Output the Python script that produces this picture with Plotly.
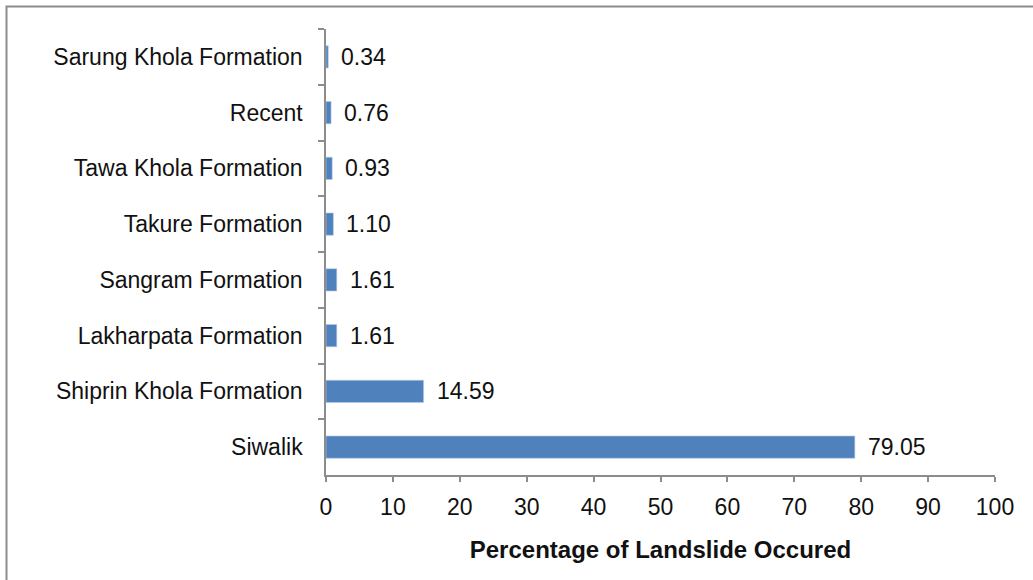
import plotly.graph_objects as go

# Geological formations, listed top to bottom as displayed
formations = [
    "Sarung Khola Formation",
    "Recent",
    "Tawa Khola Formation",
    "Takure Formation",
    "Sangram Formation",
    "Lakharpata Formation",
    "Shiprin Khola Formation",
    "Siwalik",
]
landslide_pct = [0.34, 0.76, 0.93, 1.10, 1.61, 1.61, 14.59, 79.05]
x_ticks = [0, 10, 20, 30, 40, 50, 60, 70, 80, 90, 100]

FONT = "Liberation Sans, Arial, sans-serif"
AXIS_GREY = "#8c8c8c"
TEXT = "#111111"

fig = go.Figure(
    go.Bar(
        x=landslide_pct,
        y=formations,
        orientation="h",
        width=0.4,
        marker=dict(color="#4F81BD", line=dict(color="#b9cde5", width=0.6)),
        hoverinfo="skip",
    )
)

# Value labels to the right of each bar
for name, val in zip(formations, landslide_pct):
    fig.add_annotation(
        x=val, y=name, xref="x", yref="y",
        text=f"{val:.2f}", showarrow=False,
        xanchor="left", xshift=11,
        font=dict(family=FONT, size=23, color=TEXT),
    )

# Outer frame around the chart
fig.add_shape(
    type="rect", xref="paper", yref="paper",
    x0=(6.5 - 326) / 669, x1=(1045 - 326) / 669,
    y0=(475 - 590) / 446, y1=(475 - 6.5) / 446,
    line=dict(color=AXIS_GREY, width=2), fillcolor="rgba(0,0,0,0)",
    layer="below",
)

fig.update_layout(
    width=1033, height=580,
    margin=dict(l=326, r=38, t=29, b=105),
    plot_bgcolor="white", paper_bgcolor="white",
    showlegend=False,
    font=dict(family=FONT, size=22, color=TEXT),
    xaxis=dict(
        range=[0, 100], tickvals=x_ticks, showgrid=False, zeroline=False,
        showline=True, linecolor=AXIS_GREY, linewidth=1.5,
        ticks="outside", ticklen=5, tickcolor=AXIS_GREY, tickwidth=1.5,
        ticklabelstandoff=6,
        tickfont=dict(family=FONT, size=23, color=TEXT),
        title=dict(text="<b>Percentage of Landslide Occured</b>",
                   font=dict(family=FONT, size=24, color=TEXT), standoff=22),
    ),
    yaxis=dict(
        autorange="reversed", showgrid=False, zeroline=False,
        showline=True, linecolor=AXIS_GREY, linewidth=1.5,
        ticks="outside", ticklen=6, tickcolor=AXIS_GREY, tickwidth=1.5,
        tickson="boundaries", ticklabelstandoff=17,
        tickfont=dict(family=FONT, size=23, color=TEXT),
    ),
)

fig.write_html("out.html")
